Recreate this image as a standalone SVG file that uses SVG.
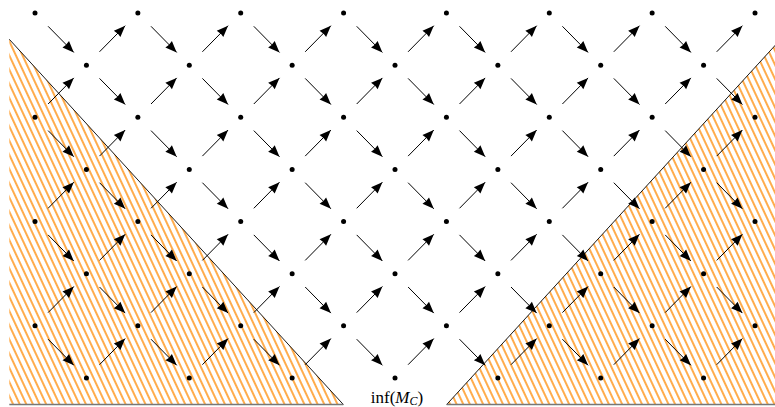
<svg xmlns="http://www.w3.org/2000/svg" width="775" height="407" viewBox="0 0 775 407">
<style>
.dot{fill:#000}
.arr{stroke:#000;stroke-width:1;fill:none;marker-end:url(#ah)}
.bd{stroke:#000;stroke-width:0.9;fill:none}
.base{stroke:#777;stroke-width:1.6;fill:none}
.lbl{font-family:"Liberation Serif","DejaVu Serif",serif;font-size:17px;fill:#000}
</style>
<defs>
<marker id="ah" markerUnits="userSpaceOnUse" viewBox="-12 -6 13 12" markerWidth="13" markerHeight="12" refX="0" refY="0" orient="auto">
<path d="M0,0 L-11.5,-4.6 Q-10.3,0 -11.5,4.6 Z" fill="#000"/>
</marker>
<pattern id="hatch" patternUnits="userSpaceOnUse" width="6" height="10" patternTransform="rotate(-25)">
<line x1="3" y1="-1" x2="3" y2="11" stroke="#ff8800" stroke-width="1.4"/>
</pattern>
</defs>
<g id="regions">
<polygon points="9.3,39.3 343.3,404.5 9.3,404.5" fill="url(#hatch)"/>
<polygon points="446.7,404.5 780.7,39.3 780.7,404.5" fill="url(#hatch)"/>
<line class="bd" x1="9.3" y1="39.3" x2="343.3" y2="404.5"/>
<line class="bd" x1="446.7" y1="404.5" x2="780.7" y2="39.3"/>
<line class="base" x1="9.3" y1="404.5" x2="343.3" y2="404.5"/>
<line class="base" x1="446.7" y1="404.5" x2="775" y2="404.5"/>
</g>
<g id="connectors">
<line class="arr" x1="48.1" y1="26.3" x2="73.8" y2="52.4"/>
<line class="arr" x1="151.0" y1="26.3" x2="176.7" y2="52.4"/>
<line class="arr" x1="253.8" y1="26.3" x2="279.5" y2="52.4"/>
<line class="arr" x1="356.7" y1="26.3" x2="382.4" y2="52.4"/>
<line class="arr" x1="459.5" y1="26.3" x2="485.2" y2="52.4"/>
<line class="arr" x1="562.4" y1="26.3" x2="588.1" y2="52.4"/>
<line class="arr" x1="665.2" y1="26.3" x2="690.9" y2="52.4"/>
<line class="arr" x1="99.5" y1="78.4" x2="125.2" y2="104.5"/>
<line class="arr" x1="202.4" y1="78.4" x2="228.1" y2="104.5"/>
<line class="arr" x1="305.2" y1="78.4" x2="330.9" y2="104.5"/>
<line class="arr" x1="408.1" y1="78.4" x2="433.8" y2="104.5"/>
<line class="arr" x1="511.0" y1="78.4" x2="536.7" y2="104.5"/>
<line class="arr" x1="613.8" y1="78.4" x2="639.5" y2="104.5"/>
<line class="arr" x1="716.7" y1="78.4" x2="742.4" y2="104.5"/>
<line class="arr" x1="48.1" y1="130.6" x2="73.8" y2="156.7"/>
<line class="arr" x1="151.0" y1="130.6" x2="176.7" y2="156.7"/>
<line class="arr" x1="253.8" y1="130.6" x2="279.5" y2="156.7"/>
<line class="arr" x1="356.7" y1="130.6" x2="382.4" y2="156.7"/>
<line class="arr" x1="459.5" y1="130.6" x2="485.2" y2="156.7"/>
<line class="arr" x1="562.4" y1="130.6" x2="588.1" y2="156.7"/>
<line class="arr" x1="665.2" y1="130.6" x2="690.9" y2="156.7"/>
<line class="arr" x1="99.5" y1="182.7" x2="125.2" y2="208.8"/>
<line class="arr" x1="202.4" y1="182.7" x2="228.1" y2="208.8"/>
<line class="arr" x1="305.2" y1="182.7" x2="330.9" y2="208.8"/>
<line class="arr" x1="408.1" y1="182.7" x2="433.8" y2="208.8"/>
<line class="arr" x1="511.0" y1="182.7" x2="536.7" y2="208.8"/>
<line class="arr" x1="613.8" y1="182.7" x2="639.5" y2="208.8"/>
<line class="arr" x1="716.7" y1="182.7" x2="742.4" y2="208.8"/>
<line class="arr" x1="48.1" y1="234.9" x2="73.8" y2="261.0"/>
<line class="arr" x1="151.0" y1="234.9" x2="176.7" y2="261.0"/>
<line class="arr" x1="253.8" y1="234.9" x2="279.5" y2="261.0"/>
<line class="arr" x1="356.7" y1="234.9" x2="382.4" y2="261.0"/>
<line class="arr" x1="459.5" y1="234.9" x2="485.2" y2="261.0"/>
<line class="arr" x1="562.4" y1="234.9" x2="588.1" y2="261.0"/>
<line class="arr" x1="665.2" y1="234.9" x2="690.9" y2="261.0"/>
<line class="arr" x1="99.5" y1="287.0" x2="125.2" y2="313.1"/>
<line class="arr" x1="202.4" y1="287.0" x2="228.1" y2="313.1"/>
<line class="arr" x1="305.2" y1="287.0" x2="330.9" y2="313.1"/>
<line class="arr" x1="408.1" y1="287.0" x2="433.8" y2="313.1"/>
<line class="arr" x1="511.0" y1="287.0" x2="536.7" y2="313.1"/>
<line class="arr" x1="613.8" y1="287.0" x2="639.5" y2="313.1"/>
<line class="arr" x1="716.7" y1="287.0" x2="742.4" y2="313.1"/>
<line class="arr" x1="48.1" y1="339.2" x2="73.8" y2="365.3"/>
<line class="arr" x1="151.0" y1="339.2" x2="176.7" y2="365.3"/>
<line class="arr" x1="253.8" y1="339.2" x2="279.5" y2="365.3"/>
<line class="arr" x1="356.7" y1="339.2" x2="382.4" y2="365.3"/>
<line class="arr" x1="459.5" y1="339.2" x2="485.2" y2="365.3"/>
<line class="arr" x1="562.4" y1="339.2" x2="588.1" y2="365.3"/>
<line class="arr" x1="665.2" y1="339.2" x2="690.9" y2="365.3"/>
<line class="arr" x1="99.5" y1="51.8" x2="125.2" y2="25.7"/>
<line class="arr" x1="202.4" y1="51.8" x2="228.1" y2="25.7"/>
<line class="arr" x1="305.2" y1="51.8" x2="330.9" y2="25.7"/>
<line class="arr" x1="408.1" y1="51.8" x2="433.8" y2="25.7"/>
<line class="arr" x1="511.0" y1="51.8" x2="536.7" y2="25.7"/>
<line class="arr" x1="613.8" y1="51.8" x2="639.5" y2="25.7"/>
<line class="arr" x1="716.7" y1="51.8" x2="742.4" y2="25.7"/>
<line class="arr" x1="48.1" y1="104.0" x2="73.8" y2="77.9"/>
<line class="arr" x1="151.0" y1="104.0" x2="176.7" y2="77.9"/>
<line class="arr" x1="253.8" y1="104.0" x2="279.5" y2="77.9"/>
<line class="arr" x1="356.7" y1="104.0" x2="382.4" y2="77.9"/>
<line class="arr" x1="459.5" y1="104.0" x2="485.2" y2="77.9"/>
<line class="arr" x1="562.4" y1="104.0" x2="588.1" y2="77.9"/>
<line class="arr" x1="665.2" y1="104.0" x2="690.9" y2="77.9"/>
<line class="arr" x1="99.5" y1="156.1" x2="125.2" y2="130.0"/>
<line class="arr" x1="202.4" y1="156.1" x2="228.1" y2="130.0"/>
<line class="arr" x1="305.2" y1="156.1" x2="330.9" y2="130.0"/>
<line class="arr" x1="408.1" y1="156.1" x2="433.8" y2="130.0"/>
<line class="arr" x1="511.0" y1="156.1" x2="536.7" y2="130.0"/>
<line class="arr" x1="613.8" y1="156.1" x2="639.5" y2="130.0"/>
<line class="arr" x1="716.7" y1="156.1" x2="742.4" y2="130.0"/>
<line class="arr" x1="48.1" y1="208.3" x2="73.8" y2="182.2"/>
<line class="arr" x1="151.0" y1="208.3" x2="176.7" y2="182.2"/>
<line class="arr" x1="253.8" y1="208.3" x2="279.5" y2="182.2"/>
<line class="arr" x1="356.7" y1="208.3" x2="382.4" y2="182.2"/>
<line class="arr" x1="459.5" y1="208.3" x2="485.2" y2="182.2"/>
<line class="arr" x1="562.4" y1="208.3" x2="588.1" y2="182.2"/>
<line class="arr" x1="665.2" y1="208.3" x2="690.9" y2="182.2"/>
<line class="arr" x1="99.5" y1="260.4" x2="125.2" y2="234.3"/>
<line class="arr" x1="202.4" y1="260.4" x2="228.1" y2="234.3"/>
<line class="arr" x1="305.2" y1="260.4" x2="330.9" y2="234.3"/>
<line class="arr" x1="408.1" y1="260.4" x2="433.8" y2="234.3"/>
<line class="arr" x1="511.0" y1="260.4" x2="536.7" y2="234.3"/>
<line class="arr" x1="613.8" y1="260.4" x2="639.5" y2="234.3"/>
<line class="arr" x1="716.7" y1="260.4" x2="742.4" y2="234.3"/>
<line class="arr" x1="48.1" y1="312.6" x2="73.8" y2="286.5"/>
<line class="arr" x1="151.0" y1="312.6" x2="176.7" y2="286.5"/>
<line class="arr" x1="253.8" y1="312.6" x2="279.5" y2="286.5"/>
<line class="arr" x1="356.7" y1="312.6" x2="382.4" y2="286.5"/>
<line class="arr" x1="459.5" y1="312.6" x2="485.2" y2="286.5"/>
<line class="arr" x1="562.4" y1="312.6" x2="588.1" y2="286.5"/>
<line class="arr" x1="665.2" y1="312.6" x2="690.9" y2="286.5"/>
<line class="arr" x1="99.5" y1="364.7" x2="125.2" y2="338.6"/>
<line class="arr" x1="202.4" y1="364.7" x2="228.1" y2="338.6"/>
<line class="arr" x1="305.2" y1="364.7" x2="330.9" y2="338.6"/>
<line class="arr" x1="408.1" y1="364.7" x2="433.8" y2="338.6"/>
<line class="arr" x1="511.0" y1="364.7" x2="536.7" y2="338.6"/>
<line class="arr" x1="613.8" y1="364.7" x2="639.5" y2="338.6"/>
<line class="arr" x1="716.7" y1="364.7" x2="742.4" y2="338.6"/>
</g>
<g id="nodes">
<g id="n0_0"><circle class="dot" cx="35" cy="13" r="2.5"/></g>
<g id="n0_2"><circle class="dot" cx="137.86" cy="13" r="2.5"/></g>
<g id="n0_4"><circle class="dot" cx="240.71" cy="13" r="2.5"/></g>
<g id="n0_6"><circle class="dot" cx="343.57" cy="13" r="2.5"/></g>
<g id="n0_8"><circle class="dot" cx="446.43" cy="13" r="2.5"/></g>
<g id="n0_10"><circle class="dot" cx="549.29" cy="13" r="2.5"/></g>
<g id="n0_12"><circle class="dot" cx="652.14" cy="13" r="2.5"/></g>
<g id="n0_14"><circle class="dot" cx="755" cy="13" r="2.5"/></g>
<g id="n1_1"><circle class="dot" cx="86.43" cy="65.14" r="2.5"/></g>
<g id="n1_3"><circle class="dot" cx="189.29" cy="65.14" r="2.5"/></g>
<g id="n1_5"><circle class="dot" cx="292.14" cy="65.14" r="2.5"/></g>
<g id="n1_7"><circle class="dot" cx="395" cy="65.14" r="2.5"/></g>
<g id="n1_9"><circle class="dot" cx="497.86" cy="65.14" r="2.5"/></g>
<g id="n1_11"><circle class="dot" cx="600.71" cy="65.14" r="2.5"/></g>
<g id="n1_13"><circle class="dot" cx="703.57" cy="65.14" r="2.5"/></g>
<g id="n2_0"><circle class="dot" cx="35" cy="117.29" r="2.5"/></g>
<g id="n2_2"><circle class="dot" cx="137.86" cy="117.29" r="2.5"/></g>
<g id="n2_4"><circle class="dot" cx="240.71" cy="117.29" r="2.5"/></g>
<g id="n2_6"><circle class="dot" cx="343.57" cy="117.29" r="2.5"/></g>
<g id="n2_8"><circle class="dot" cx="446.43" cy="117.29" r="2.5"/></g>
<g id="n2_10"><circle class="dot" cx="549.29" cy="117.29" r="2.5"/></g>
<g id="n2_12"><circle class="dot" cx="652.14" cy="117.29" r="2.5"/></g>
<g id="n2_14"><circle class="dot" cx="755" cy="117.29" r="2.5"/></g>
<g id="n3_1"><circle class="dot" cx="86.43" cy="169.43" r="2.5"/></g>
<g id="n3_3"><circle class="dot" cx="189.29" cy="169.43" r="2.5"/></g>
<g id="n3_5"><circle class="dot" cx="292.14" cy="169.43" r="2.5"/></g>
<g id="n3_7"><circle class="dot" cx="395" cy="169.43" r="2.5"/></g>
<g id="n3_9"><circle class="dot" cx="497.86" cy="169.43" r="2.5"/></g>
<g id="n3_11"><circle class="dot" cx="600.71" cy="169.43" r="2.5"/></g>
<g id="n3_13"><circle class="dot" cx="703.57" cy="169.43" r="2.5"/></g>
<g id="n4_0"><circle class="dot" cx="35" cy="221.57" r="2.5"/></g>
<g id="n4_2"><circle class="dot" cx="137.86" cy="221.57" r="2.5"/></g>
<g id="n4_4"><circle class="dot" cx="240.71" cy="221.57" r="2.5"/></g>
<g id="n4_6"><circle class="dot" cx="343.57" cy="221.57" r="2.5"/></g>
<g id="n4_8"><circle class="dot" cx="446.43" cy="221.57" r="2.5"/></g>
<g id="n4_10"><circle class="dot" cx="549.29" cy="221.57" r="2.5"/></g>
<g id="n4_12"><circle class="dot" cx="652.14" cy="221.57" r="2.5"/></g>
<g id="n4_14"><circle class="dot" cx="755" cy="221.57" r="2.5"/></g>
<g id="n5_1"><circle class="dot" cx="86.43" cy="273.71" r="2.5"/></g>
<g id="n5_3"><circle class="dot" cx="189.29" cy="273.71" r="2.5"/></g>
<g id="n5_5"><circle class="dot" cx="292.14" cy="273.71" r="2.5"/></g>
<g id="n5_7"><circle class="dot" cx="395" cy="273.71" r="2.5"/></g>
<g id="n5_9"><circle class="dot" cx="497.86" cy="273.71" r="2.5"/></g>
<g id="n5_11"><circle class="dot" cx="600.71" cy="273.71" r="2.5"/></g>
<g id="n5_13"><circle class="dot" cx="703.57" cy="273.71" r="2.5"/></g>
<g id="n6_0"><circle class="dot" cx="35" cy="325.86" r="2.5"/></g>
<g id="n6_2"><circle class="dot" cx="137.86" cy="325.86" r="2.5"/></g>
<g id="n6_4"><circle class="dot" cx="240.71" cy="325.86" r="2.5"/></g>
<g id="n6_6"><circle class="dot" cx="343.57" cy="325.86" r="2.5"/></g>
<g id="n6_8"><circle class="dot" cx="446.43" cy="325.86" r="2.5"/></g>
<g id="n6_10"><circle class="dot" cx="549.29" cy="325.86" r="2.5"/></g>
<g id="n6_12"><circle class="dot" cx="652.14" cy="325.86" r="2.5"/></g>
<g id="n6_14"><circle class="dot" cx="755" cy="325.86" r="2.5"/></g>
<g id="n7_1"><circle class="dot" cx="86.43" cy="378" r="2.5"/></g>
<g id="n7_3"><circle class="dot" cx="189.29" cy="378" r="2.5"/></g>
<g id="n7_5"><circle class="dot" cx="292.14" cy="378" r="2.5"/></g>
<g id="n7_7"><circle class="dot" cx="395" cy="378" r="2.5"/></g>
<g id="n7_9"><circle class="dot" cx="497.86" cy="378" r="2.5"/></g>
<g id="n7_11"><circle class="dot" cx="600.71" cy="378" r="2.5"/></g>
<g id="n7_13"><circle class="dot" cx="703.57" cy="378" r="2.5"/></g>
</g>
<g id="label">
<text class="lbl" x="397" y="402.5" text-anchor="middle">inf(<tspan font-style="italic">M</tspan><tspan font-style="italic" font-size="12" dy="2.5">C</tspan><tspan dy="-2.5">)</tspan></text>
</g>
</svg>
